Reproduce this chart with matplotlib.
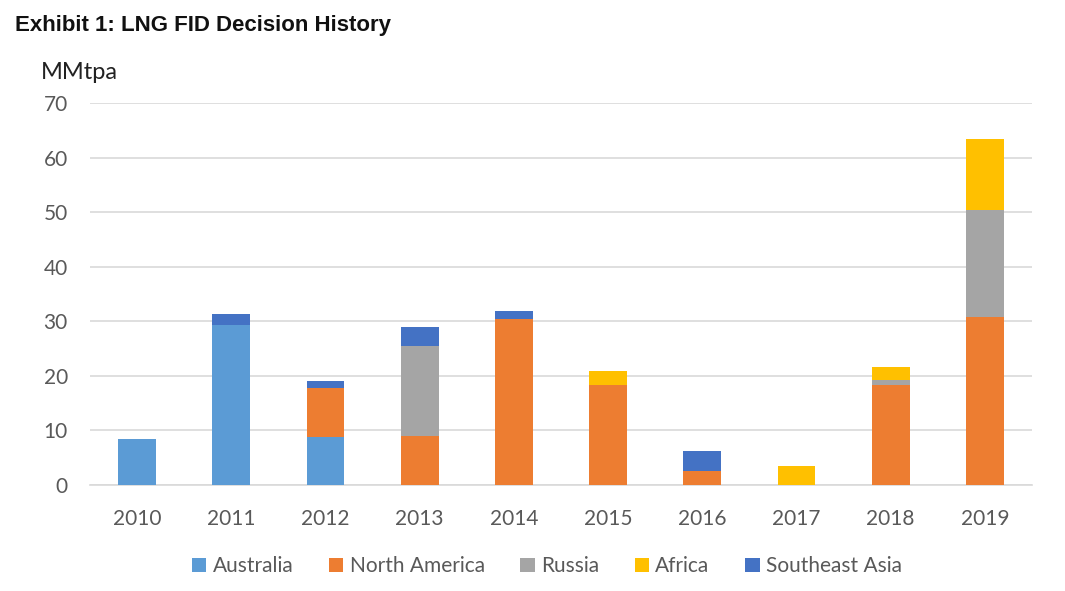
import numpy as np
import matplotlib
matplotlib.use("Agg")
import matplotlib.pyplot as plt

# LNG FID volumes by region, MMtpa
years = ["2010", "2011", "2012", "2013", "2014", "2015", "2016", "2017", "2018", "2019"]
australia = [8.4, 29.3, 8.8, 0, 0, 0, 0, 0, 0, 0]
north_america = [0, 0, 9.0, 8.9, 30.4, 18.4, 2.5, 0, 18.4, 30.8]
russia = [0, 0, 0, 16.6, 0, 0, 0, 0, 0.9, 19.6]
africa = [0, 0, 0, 0, 0, 2.4, 0, 3.4, 2.4, 13.0]
se_asia = [0, 2.0, 1.3, 3.5, 1.4, 0, 3.7, 0, 0, 0]

series = [
    ("Australia", australia, "#5B9BD5"),
    ("North America", north_america, "#ED7D31"),
    ("Russia", russia, "#A5A5A5"),
    ("Africa", africa, "#FFC000"),
    ("Southeast Asia", se_asia, "#4472C4"),
]

plt.rcParams["font.family"] = ["Lato", "DejaVu Sans"]

fig = plt.figure(figsize=(10.65, 5.91), dpi=100)
ax = fig.add_axes([0.0845, 0.1794, 0.8845, 0.6463])

x = np.arange(len(years))
bottom = np.zeros(len(years))
for name, vals, col in series:
    vals = np.array(vals)
    ax.bar(x, vals, 0.4, bottom=bottom, color=col, label=name, zorder=3)
    bottom += vals

ax.set_xlim(-0.5, len(years) - 0.5)
ax.set_ylim(0, 70)
ax.set_yticks(range(0, 71, 10))
ax.set_xticks(x)
ax.set_xticklabels(years)
ax.yaxis.grid(True, color="#D9D9D9", linewidth=1.2, zorder=0)
for s in ["top", "right", "left"]:
    ax.spines[s].set_visible(False)
ax.spines["bottom"].set_color("#D9D9D9")
ax.spines["bottom"].set_linewidth(1.2)
ax.tick_params(axis="both", length=0, labelsize=15, labelcolor="#595959")
ax.tick_params(axis="y", pad=16)
ax.tick_params(axis="x", pad=17)

fig.text(0.014, 0.948, "Exhibit 1: LNG FID Decision History", fontsize=16,
         fontweight="bold", family="Liberation Sans", color="#111111", va="baseline")
fig.text(0.038, 0.866, "MMtpa", fontsize=17, color="#222222", va="baseline")

ax.legend(loc="center", bbox_to_anchor=(0.485, -0.213), ncol=5, frameon=False,
          fontsize=15, handlelength=0.7, handleheight=0.7, handletextpad=0.3,
          columnspacing=1.7, labelcolor="#595959")

fig.savefig("out.png", dpi=100, facecolor="white")
